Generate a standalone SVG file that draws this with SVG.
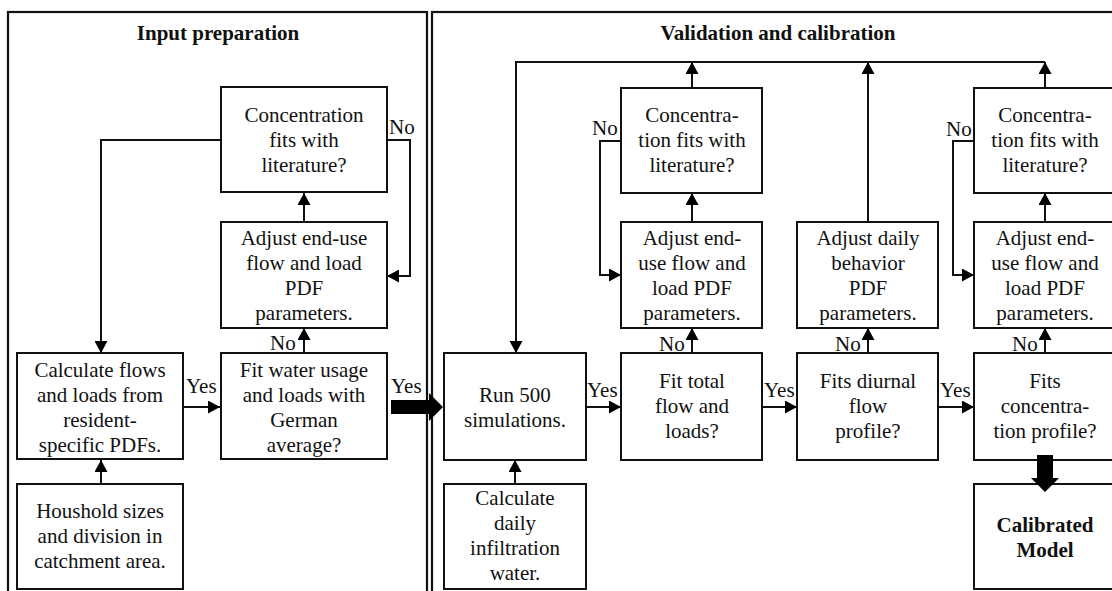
<svg xmlns="http://www.w3.org/2000/svg" width="1112" height="591" viewBox="0 0 1112 591">
<style>
  .panel{fill:none;stroke:#111;stroke-width:2.2}
  .box{fill:#fff;stroke:#111;stroke-width:2}
  .t{font-family:"Liberation Serif","Times New Roman",serif;font-size:21px;fill:#111;text-anchor:middle}
  .b{font-weight:bold}
  .lbl{font-family:"Liberation Serif","Times New Roman",serif;font-size:21px;fill:#111}
  .c{fill:none;stroke:#111;stroke-width:2}
  .ca{fill:none;stroke:#111;stroke-width:2;marker-end:url(#ah)}
  .thick{fill:#000;stroke:none}
</style>
<defs>
  <marker id="ah" markerUnits="userSpaceOnUse" markerWidth="12" markerHeight="13" refX="12" refY="6.5" orient="auto">
    <path d="M0,0 L12,6.5 L0,13 z" fill="#000"/>
  </marker>
</defs>
<rect width="1112" height="591" fill="#fff"/>

<g id="panel-input">
  <rect class="panel" x="8" y="12" width="419" height="600"/>
  <text class="t b" x="218" y="40">Input preparation</text>
</g>
<g id="panel-validation">
  <rect class="panel" x="432" y="12" width="700" height="600"/>
  <text class="t b" x="778" y="40">Validation and calibration</text>
</g>

<g id="connectors">
  <path class="ca" d="M221,140 H101 V353"/>
  <path class="ca" d="M387,140 H410 V276 H387"/>
  <path class="ca" d="M304,222 V193"/>
  <path class="ca" d="M304,353 V328"/>
  <path class="ca" d="M183,407 H220"/>
  <path class="ca" d="M101,484 V460"/>
  <polygon class="thick" points="391,400 429,400 429,393 443,407 429,421 429,414 391,414"/>

  <path class="ca" d="M1045,62 H516 V353"/>
  <path class="ca" d="M692,88 V62"/>
  <path class="ca" d="M868,222 V62"/>
  <path class="ca" d="M1045,88 V62"/>
  <path class="ca" d="M621,141 H600 V275 H621"/>
  <path class="ca" d="M692,222 V193"/>
  <path class="ca" d="M692,353 V328"/>
  <path class="ca" d="M586,407 H621"/>
  <path class="ca" d="M515,484 V460"/>
  <path class="ca" d="M762,407 H797"/>
  <path class="ca" d="M868,353 V328"/>
  <path class="ca" d="M938,407 H974"/>
  <path class="ca" d="M1045,353 V328"/>
  <path class="ca" d="M1045,222 V193"/>
  <path class="ca" d="M974,141 H953 V275 H974"/>

  <text class="lbl" x="389" y="134">No</text>
  <text class="lbl" x="270" y="350">No</text>
  <text class="lbl" x="186" y="393">Yes</text>
  <text class="lbl" x="391" y="393">Yes</text>
  <text class="lbl" x="592" y="135">No</text>
  <text class="lbl" x="659" y="351">No</text>
  <text class="lbl" x="587" y="397">Yes</text>
  <text class="lbl" x="764" y="397">Yes</text>
  <text class="lbl" x="835" y="351">No</text>
  <text class="lbl" x="940" y="397">Yes</text>
  <text class="lbl" x="946" y="136">No</text>
  <text class="lbl" x="1012" y="351">No</text>
</g>

<g id="conc1">
  <rect class="box" x="221" y="87" width="166" height="105"/>
  <text class="t" x="304" y="122">Concentration</text>
  <text class="t" x="304" y="147">fits with</text>
  <text class="t" x="304" y="172">literature?</text>
</g>
<g id="adjust1">
  <rect class="box" x="221" y="222" width="166" height="106"/>
  <text class="t" x="304" y="245">Adjust end-use</text>
  <text class="t" x="304" y="270">flow and load</text>
  <text class="t" x="304" y="295">PDF</text>
  <text class="t" x="304" y="320">parameters.</text>
</g>
<g id="calc-flows">
  <rect class="box" x="17" y="353" width="166" height="106"/>
  <text class="t" x="100" y="377">Calculate flows</text>
  <text class="t" x="100" y="402">and loads from</text>
  <text class="t" x="100" y="427">resident-</text>
  <text class="t" x="100" y="452">specific PDFs.</text>
</g>
<g id="fit-water">
  <rect class="box" x="221" y="353" width="166" height="106"/>
  <text class="t" x="304" y="377">Fit water usage</text>
  <text class="t" x="304" y="402">and loads with</text>
  <text class="t" x="304" y="427">German</text>
  <text class="t" x="304" y="452">average?</text>
</g>
<g id="household">
  <rect class="box" x="17" y="484" width="166" height="105"/>
  <text class="t" x="100" y="518">Houshold sizes</text>
  <text class="t" x="100" y="543">and division in</text>
  <text class="t" x="100" y="568">catchment area.</text>
</g>

<g id="conc2">
  <rect class="box" x="621" y="88" width="141" height="105"/>
  <text class="t" x="692" y="122">Concentra-</text>
  <text class="t" x="692" y="147">tion fits with</text>
  <text class="t" x="692" y="172">literature?</text>
</g>
<g id="adjust2">
  <rect class="box" x="621" y="222" width="141" height="106"/>
  <text class="t" x="692" y="245">Adjust end-</text>
  <text class="t" x="692" y="270">use flow and</text>
  <text class="t" x="692" y="295">load PDF</text>
  <text class="t" x="692" y="320">parameters.</text>
</g>
<g id="run">
  <rect class="box" x="444" y="353" width="142" height="107"/>
  <text class="t" x="515" y="402">Run 500</text>
  <text class="t" x="515" y="427">simulations.</text>
</g>
<g id="fit-total">
  <rect class="box" x="621" y="353" width="141" height="107"/>
  <text class="t" x="692" y="388">Fit total</text>
  <text class="t" x="692" y="413">flow and</text>
  <text class="t" x="692" y="438">loads?</text>
</g>
<g id="calc-infiltration">
  <rect class="box" x="444" y="484" width="142" height="105"/>
  <text class="t" x="515" y="505">Calculate</text>
  <text class="t" x="515" y="530">daily</text>
  <text class="t" x="515" y="555">infiltration</text>
  <text class="t" x="515" y="580">water.</text>
</g>
<g id="adjust-daily">
  <rect class="box" x="797" y="222" width="141" height="106"/>
  <text class="t" x="868" y="245">Adjust daily</text>
  <text class="t" x="868" y="270">behavior</text>
  <text class="t" x="868" y="295">PDF</text>
  <text class="t" x="868" y="320">parameters.</text>
</g>
<g id="fits-diurnal">
  <rect class="box" x="797" y="353" width="141" height="107"/>
  <text class="t" x="868" y="388">Fits diurnal</text>
  <text class="t" x="868" y="413">flow</text>
  <text class="t" x="868" y="438">profile?</text>
</g>
<g id="conc3">
  <rect class="box" x="974" y="88" width="160" height="105"/>
  <text class="t" x="1045" y="122">Concentra-</text>
  <text class="t" x="1045" y="147">tion fits with</text>
  <text class="t" x="1045" y="172">literature?</text>
</g>
<g id="adjust3">
  <rect class="box" x="974" y="222" width="160" height="106"/>
  <text class="t" x="1045" y="245">Adjust end-</text>
  <text class="t" x="1045" y="270">use flow and</text>
  <text class="t" x="1045" y="295">load PDF</text>
  <text class="t" x="1045" y="320">parameters.</text>
</g>
<g id="fits-conc">
  <rect class="box" x="974" y="353" width="160" height="107"/>
  <text class="t" x="1045" y="388">Fits</text>
  <text class="t" x="1045" y="413">concentra-</text>
  <text class="t" x="1045" y="438">tion profile?</text>
</g>
<g id="calibrated">
  <rect class="box" x="974" y="484" width="160" height="105"/>
  <text class="t b" x="1045" y="532">Calibrated</text>
  <text class="t b" x="1045" y="557">Model</text>
</g>
<g id="connector-final">
  <polygon class="thick" points="1037,455 1053,455 1053,478 1059,478 1045,492 1031,478 1037,478"/>
</g>
</svg>
